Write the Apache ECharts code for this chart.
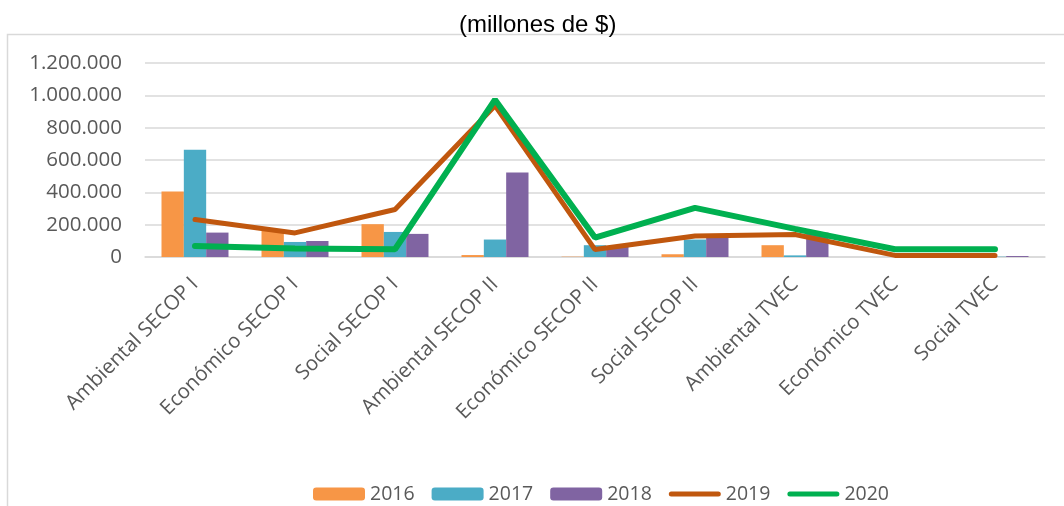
<!DOCTYPE html>
<html>
<head>
<meta charset="utf-8">
<script src="https://cdn.jsdelivr.net/npm/echarts@6/dist/echarts.min.js"></script>
<style>
  html, body { margin: 0; padding: 0; background: #fff; }
  #chart { width: 1064px; height: 506px; }
</style>
</head>
<body>
<div id="chart"></div>
<script>
const categories = [
  'Ambiental SECOP I', 'Económico SECOP I', 'Social SECOP I',
  'Ambiental SECOP II', 'Económico SECOP II', 'Social SECOP II',
  'Ambiental TVEC', 'Económico TVEC', 'Social TVEC'
]
const years = ['2016', '2017', '2018', '2019', '2020']

const v2016 = [405000, 165000, 203000, 12000, 2000, 17000, 73000, 0, 0]
const v2017 = [663000, 93000, 155000, 108000, 73000, 108000, 10000, 0, 2000]
const v2018 = [151000, 99000, 143000, 522000, 65000, 120000, 151000, 0, 6000]
const v2019 = [232000, 149000, 294000, 936000, 46000, 130000, 139000, 10000, 10000]
const v2020 = [68000, 52000, 48000, 973000, 120000, 304000, 174000, 48000, 48000]

const yTicks = [0, 200000, 400000, 600000, 800000, 1000000, 1200000]

const colors = ['#F79646', '#4BACC6', '#8064A2', '#C0570E', '#00B050']

const fmt = (v) => String(v).replace(/\B(?=(\d{3})+(?!\d))/g, '.')

// thin rounded bar used as the legend icon of the line series
const lineIcon = 'path://M0,0 M0,13 M2.5,4 L49.5,4 A2.5,2.5 0 0 1 49.5,9 L2.5,9 A2.5,2.5 0 0 1 2.5,4 Z'

const chart = echarts.init(document.getElementById('chart'))

const barSeries = (name, data, color) => ({
  name: name,
  type: 'bar',
  data: data,
  barGap: '0%',
  barCategoryGap: '33%',
  itemStyle: { color: color }
})

const lineSeries = (name, data, color, width) => ({
  name: name,
  type: 'line',
  data: data,
  symbol: 'none',
  lineStyle: { color: color, width: width, cap: 'round' },
  itemStyle: { color: color }
})

const option = {
  animation: false,
  title: {
    text: '(millones de $)',
    left: 454,
    top: 8,
    textStyle: {
      fontFamily: 'Liberation Sans',
      fontWeight: 'normal',
      fontSize: 24,
      color: '#000'
    }
  },
  graphic: [{
    type: 'rect',
    shape: { x: 7.5, y: 34.5, width: 1080, height: 500 },
    style: { fill: 'none', stroke: '#d9d9d9', lineWidth: 1.5 },
    silent: true
  }],
  legend: {
    top: 479,
    left: 308,
    itemWidth: 52,
    itemHeight: 13,
    itemGap: 17,
    textStyle: {
      fontFamily: 'Open Sans',
      fontSize: 19.5,
      color: '#595959'
    },
    data: [
      { name: years[0] },
      { name: years[1] },
      { name: years[2] },
      { name: years[3], icon: lineIcon },
      { name: years[4], icon: lineIcon }
    ]
  },
  grid: {
    left: 145,
    right: 19,
    top: 63,
    bottom: 249
  },
  xAxis: {
    type: 'category',
    data: categories,
    axisLine: { lineStyle: { color: '#d9d9d9', width: 1.5 } },
    axisTick: { show: false },
    axisLabel: {
      rotate: 45,
      interval: 0,
      margin: 24,
      fontFamily: 'Open Sans',
      fontSize: 20.5,
      color: '#595959'
    }
  },
  yAxis: {
    type: 'value',
    min: yTicks[0],
    max: yTicks[yTicks.length - 1],
    interval: 200000,
    axisLine: { show: false },
    axisTick: { show: false },
    splitLine: { lineStyle: { color: '#d9d9d9', width: 1.5 } },
    axisLabel: {
      margin: 23,
      fontFamily: 'Open Sans',
      fontSize: 20.5,
      color: '#595959',
      formatter: fmt
    }
  },
  series: [
    barSeries('2016', v2016, colors[0]),
    barSeries('2017', v2017, colors[1]),
    barSeries('2018', v2018, colors[2]),
    lineSeries('2019', v2019, colors[3], 5),
    lineSeries('2020', v2020, colors[4], 6)
  ]
}

chart.setOption(option)
</script>
</body>
</html>
